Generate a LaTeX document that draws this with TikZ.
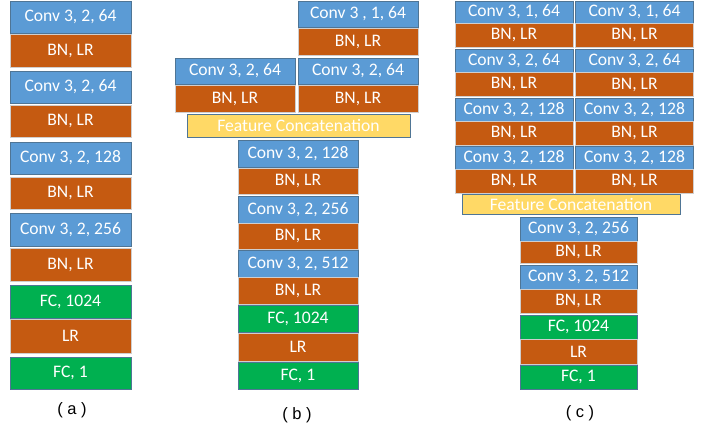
\documentclass[tikz,border=0pt]{standalone}
\usepackage{fontspec}
\setmainfont{Carlito}
\newfontfamily\capfont{Liberation Sans}
\definecolor{convblue}{HTML}{5B9BD5}
\definecolor{bnorange}{HTML}{C55A11}
\definecolor{fcgreen}{HTML}{00B050}
\definecolor{catyellow}{HTML}{FFD966}
\definecolor{edgeblue}{HTML}{4F7595}
\definecolor{edgegray}{HTML}{D0CECE}
\begin{document}
\begin{tikzpicture}[x=1pt,y=-1pt,
  layer/.style={inner sep=0pt,outer sep=0pt,text=white,font=\fontsize{17.6}{18}\selectfont,line width=0.9pt},
  conv/.style={layer,fill=convblue,draw=edgeblue},
  bn/.style={layer,fill=bnorange,draw=edgegray,line width=0.5pt},
  fc/.style={layer,fill=fcgreen,draw=edgeblue},
  cat/.style={layer,fill=catyellow,draw=edgeblue},
  caption/.style={font=\capfont\fontsize{16.5}{18}\selectfont,text=black}]
\useasboundingbox (0,0) rectangle (707,430);

% (a) plain stack
\begin{scope}[every node/.append style={minimum width=121pt}]
\node[conv,minimum height=32pt] (a1) at (70.5,17) {Conv 3, 2, 64};
\node[bn,minimum height=33pt] (a2) at (70.5,50.5) {BN, LR};
\node[conv,minimum height=32pt] (a3) at (70.5,87) {Conv 3, 2, 64};
\node[bn,minimum height=32pt] (a4) at (70.5,121) {BN, LR};
\node[conv,minimum height=32pt] (a5) at (70.5,158) {Conv 3, 2, 128};
\node[bn,minimum height=32pt] (a6) at (70.5,193) {BN, LR};
\node[conv,minimum height=33pt] (a7) at (70.5,229.5) {Conv 3, 2, 256};
\node[bn,minimum height=33pt] (a8) at (70.5,264.5) {BN, LR};
\node[fc,minimum height=33pt] (a9) at (70.5,301.5) {FC, 1024};
\node[bn,minimum height=34pt] (a10) at (70.5,336) {LR};
\node[fc,minimum height=32pt] (a11) at (70.5,373) {FC, 1};
\end{scope}
\node[caption] (capa) at (72,410) {( a )};

% (b) two branches joined by concatenation
\begin{scope}[every node/.append style={minimum width=120pt}]
\node[conv,minimum height=26pt] (b1) at (358,14) {Conv 3 , 1, 64};
\node[bn,minimum height=27pt] (b2) at (358,41.5) {BN, LR};
\node[conv,minimum height=26pt] (b3) at (235,71) {Conv 3, 2, 64};
\node[bn,minimum height=27pt] (b4) at (235,98.5) {BN, LR};
\node[conv,minimum height=26pt] (b5) at (358,71) {Conv 3, 2, 64};
\node[bn,minimum height=27pt] (b6) at (358,98.5) {BN, LR};
\node[conv,minimum height=27pt] (b8) at (298,153.5) {Conv 3, 2, 128};
\node[bn,minimum height=26pt] (b9) at (298,181) {BN, LR};
\node[conv,minimum height=27pt] (b10) at (298,209.5) {Conv 3, 2, 256};
\node[bn,minimum height=26pt] (b11) at (298,236) {BN, LR};
\node[conv,minimum height=27pt] (b12) at (298,263.5) {Conv 3, 2, 512};
\node[bn,minimum height=27pt] (b13) at (298,290.5) {BN, LR};
\node[fc,minimum height=27pt] (b14) at (298,318.5) {FC, 1024};
\node[bn,minimum height=28pt] (b15) at (298,347) {LR};
\node[fc,minimum height=27pt] (b16) at (298,375.5) {FC, 1};
\end{scope}
\node[cat,minimum width=223pt,minimum height=23pt] (b7) at (298.5,125.5) {Feature Concatenation};
\node[caption] (capb) at (297,415) {( b )};

% (c) two deep branches joined by concatenation
\begin{scope}[every node/.append style={minimum width=118pt}]
\node[conv,minimum height=22pt] (cl1) at (514,12) {Conv 3, 1, 64};
\node[bn,minimum height=24pt] (cl2) at (514,35) {BN, LR};
\node[conv,minimum height=23pt] (cl3) at (514,60.5) {Conv 3, 2, 64};
\node[bn,minimum height=24pt] (cl4) at (514,84) {BN, LR};
\node[conv,minimum height=23pt] (cl5) at (514,109.5) {Conv 3, 2, 128};
\node[bn,minimum height=24pt] (cl6) at (514,133) {BN, LR};
\node[conv,minimum height=23pt] (cl7) at (514,157.5) {Conv 3, 2, 128};
\node[bn,minimum height=24pt] (cl8) at (514,181) {BN, LR};
\node[conv,minimum height=22pt] (cr1) at (634.5,12) {Conv 3, 1, 64};
\node[bn,minimum height=24pt] (cr2) at (634.5,35) {BN, LR};
\node[conv,minimum height=23pt] (cr3) at (634.5,61) {Conv 3, 2, 64};
\node[bn,minimum height=24pt] (cr4) at (634.5,84.5) {BN, LR};
\node[conv,minimum height=23pt] (cr5) at (634.5,109.5) {Conv 3, 2, 128};
\node[bn,minimum height=24pt] (cr6) at (634.5,133) {BN, LR};
\node[conv,minimum height=23pt] (cr7) at (634.5,157.5) {Conv 3, 2, 128};
\node[bn,minimum height=24pt] (cr8) at (634.5,181) {BN, LR};
\end{scope}
\node[cat,minimum width=218pt,minimum height=20pt] (c9) at (571,204) {Feature Concatenation};
\begin{scope}[every node/.append style={minimum width=117pt}]
\node[conv,minimum height=24pt] (c10) at (578.5,229) {Conv 3, 2, 256};
\node[bn,minimum height=22pt] (c11) at (578.5,252) {BN, LR};
\node[conv,minimum height=24pt] (c12) at (578.5,277) {Conv 3, 2, 512};
\node[bn,minimum height=24pt] (c13) at (578.5,301) {BN, LR};
\node[fc,minimum height=24pt] (c14) at (578.5,327) {FC, 1024};
\node[bn,minimum height=25pt] (c15) at (578.5,351.5) {LR};
\node[fc,minimum height=24pt] (c16) at (578.5,377) {FC, 1};
\end{scope}
\node[caption] (capc) at (580,413) {( c )};
\end{tikzpicture}
\end{document}
